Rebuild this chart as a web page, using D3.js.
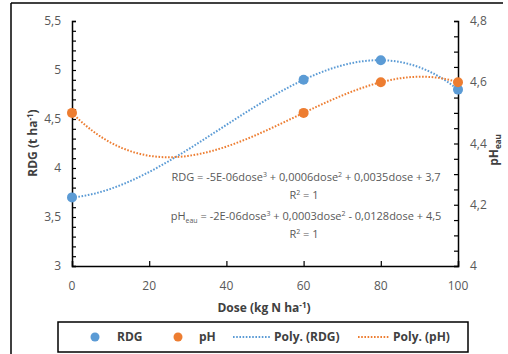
<!DOCTYPE html>
<html>
<head>
<meta charset="utf-8">
<script src="https://cdn.jsdelivr.net/npm/d3@7"></script>
<style>
  body { margin: 0; background: #fff; }
  svg text { font-family: "Open Sans", "Liberation Sans", sans-serif; }
</style>
</head>
<body>
<svg id="chart" width="508" height="354"></svg>
<script>
// data
const doses = [0, 60, 80, 100];
const rdg = [3.7, 4.9, 5.1, 4.8];
const ph = [4.5, 4.5, 4.6, 4.6];
const xTicks = [0, 20, 40, 60, 80, 100];
const leftTicks = [3, 3.5, 4, 4.5, 5, 5.5];
const rightTicks = [4, 4.2, 4.4, 4.6, 4.8];

const BLUE = "#5B9BD5";
const ORANGE = "#ED7D31";
const GREY = "#595959";

const svg = d3.select("#chart");
const m = { left: 72, right: 458, top: 21, bottom: 266 };

const x = d3.scaleLinear().domain([0, 100]).range([m.left, m.right]);
const yL = d3.scaleLinear().domain([3, 5.5]).range([m.bottom, m.top]);
const yR = d3.scaleLinear().domain([4, 4.8]).range([m.bottom, m.top]);

const fr = d3.formatLocale({ decimal: ",", thousands: " ", grouping: [3], currency: ["", ""] });
const fmt = fr.format("~f");

// outer frame (only top + left visible in the crop)
svg.append("line").attr("x1", 11).attr("x2", 503).attr("y1", 3).attr("y2", 3)
  .attr("stroke", "#000").attr("stroke-width", 1.5);
svg.append("line").attr("x1", 11).attr("x2", 11).attr("y1", 3).attr("y2", 354)
  .attr("stroke", "#000").attr("stroke-width", 1.5);

// cubic through the 4 points (Lagrange) = Excel poly trendline with R2 = 1
function lagrange(xs, ys) {
  return t => d3.sum(xs, (xi, i) => {
    let p = ys[i];
    xs.forEach((xj, j) => { if (j !== i) p *= (t - xj) / (xi - xj); });
    return p;
  });
}
const fRdg = lagrange(doses, rdg);
const fPh = lagrange(doses, ph);
const grid = d3.range(0, 100.5, 1);

// axes
const axL = svg.append("g").attr("transform", `translate(${m.left},0)`)
  .call(d3.axisRight(yL).ticks(25).tickSize(4).tickFormat(""));
const axR = svg.append("g").attr("transform", `translate(${m.right},0)`)
  .call(d3.axisLeft(yR).ticks(20).tickSize(4).tickFormat(""));
const axB = svg.append("g").attr("transform", `translate(0,${m.bottom})`)
  .call(d3.axisTop(x).tickValues(xTicks).tickSize(5).tickFormat(""));
[axL, axR, axB].forEach(g => {
  g.select(".domain").attr("stroke", "#000").attr("stroke-width", 1.5);
  g.selectAll(".tick line").attr("stroke", "#000").attr("stroke-width", 1.2);
});

// tick labels
svg.selectAll(".lt").data(leftTicks).join("text")
  .attr("x", 61).attr("y", d => yL(d)).attr("dy", "0.35em")
  .attr("text-anchor", "end").attr("font-size", 12).attr("fill", GREY)
  .text(d => fmt(d));
svg.selectAll(".rt").data(rightTicks).join("text")
  .attr("x", 470).attr("y", d => yR(d)).attr("dy", "0.35em")
  .attr("font-size", 12).attr("fill", GREY)
  .text(d => fmt(d));
svg.selectAll(".xt").data(xTicks).join("text")
  .attr("x", d => x(d)).attr("y", 290).attr("text-anchor", "middle")
  .attr("font-size", 12).attr("fill", GREY)
  .text(d => d);

// axis titles
const tL = svg.append("text").attr("transform", "translate(37,143) rotate(-90)")
  .attr("text-anchor", "middle").attr("font-size", 12).attr("font-weight", "bold").attr("fill", "#404040");
tL.append("tspan").text("RDG (t ha");
tL.append("tspan").attr("dy", -4).attr("font-size", 8).text("-1");
tL.append("tspan").attr("dy", 4).text(")");

const tR = svg.append("text").attr("transform", "translate(498,150) rotate(-90)")
  .attr("text-anchor", "middle").attr("font-size", 12).attr("font-weight", "bold").attr("fill", "#404040");
tR.append("tspan").text("pH");
tR.append("tspan").attr("dy", 3).attr("font-size", 8).text("eau");

const tB = svg.append("text").attr("x", 264).attr("y", 312)
  .attr("text-anchor", "middle").attr("font-size", 12).attr("font-weight", "bold").attr("fill", "#404040");
tB.append("tspan").text("Dose (kg N ha");
tB.append("tspan").attr("dy", -4).attr("font-size", 8).text("-1");
tB.append("tspan").attr("dy", 4).text(")");

// trendlines
svg.append("path").datum(grid)
  .attr("d", d3.line().x(d => x(d)).y(d => yL(fRdg(d))))
  .attr("fill", "none").attr("stroke", BLUE).attr("stroke-width", 2)
  .attr("stroke-dasharray", "1.6,1.6");
svg.append("path").datum(grid)
  .attr("d", d3.line().x(d => x(d)).y(d => yR(fPh(d))))
  .attr("fill", "none").attr("stroke", ORANGE).attr("stroke-width", 2)
  .attr("stroke-dasharray", "1.6,1.6");

// points
svg.selectAll(".pr").data(doses).join("circle")
  .attr("cx", d => x(d)).attr("cy", (d, i) => yL(rdg[i])).attr("r", 5).attr("fill", BLUE);
svg.selectAll(".pp").data(doses).join("circle")
  .attr("cx", d => x(d)).attr("cy", (d, i) => yR(ph[i])).attr("r", 5).attr("fill", ORANGE);

// equations
const eq = svg.append("g").attr("font-size", 11).attr("fill", GREY).attr("text-anchor", "middle");
const e1 = eq.append("text").attr("x", 306).attr("y", 181);
e1.append("tspan").text("RDG = -5E-06dose");
e1.append("tspan").attr("dy", -4).attr("font-size", 7).text("3");
e1.append("tspan").attr("dy", 4).text(" + 0,0006dose");
e1.append("tspan").attr("dy", -4).attr("font-size", 7).text("2");
e1.append("tspan").attr("dy", 4).text(" + 0,0035dose + 3,7");
const r1 = eq.append("text").attr("x", 304).attr("y", 199);
r1.append("tspan").text("R");
r1.append("tspan").attr("dy", -4).attr("font-size", 7).text("2");
r1.append("tspan").attr("dy", 4).text(" = 1");
const e2 = eq.append("text").attr("x", 306).attr("y", 220);
e2.append("tspan").text("pH");
e2.append("tspan").attr("dy", 3).attr("font-size", 7).text("eau");
e2.append("tspan").attr("dy", -3).text(" = -2E-06dose");
e2.append("tspan").attr("dy", -4).attr("font-size", 7).text("3");
e2.append("tspan").attr("dy", 4).text(" + 0,0003dose");
e2.append("tspan").attr("dy", -4).attr("font-size", 7).text("2");
e2.append("tspan").attr("dy", 4).text(" - 0,0128dose + 4,5");
const r2 = eq.append("text").attr("x", 304).attr("y", 238);
r2.append("tspan").text("R");
r2.append("tspan").attr("dy", -4).attr("font-size", 7).text("2");
r2.append("tspan").attr("dy", 4).text(" = 1");

// legend
const leg = svg.append("g");
leg.append("rect").attr("x", 58).attr("y", 322).attr("width", 410).attr("height", 30)
  .attr("fill", "#fff").attr("stroke", "#000").attr("stroke-width", 1.5);
const ly = 337;
const items = [
  { type: "dot", color: BLUE, label: "RDG", sx: 95, tx: 117 },
  { type: "dot", color: ORANGE, label: "pH", sx: 178, tx: 199 },
  { type: "line", color: BLUE, label: "Poly. (RDG)", sx: 233, tx: 274 },
  { type: "line", color: ORANGE, label: "Poly. (pH)", sx: 358, tx: 393 }
];
items.forEach(it => {
  if (it.type === "dot") {
    leg.append("circle").attr("cx", it.sx).attr("cy", ly).attr("r", 4.5).attr("fill", it.color);
  } else {
    leg.append("line").attr("x1", it.sx).attr("x2", it.tx - 4).attr("y1", ly).attr("y2", ly)
      .attr("stroke", it.color).attr("stroke-width", 2).attr("stroke-dasharray", "1.6,1.6");
  }
  leg.append("text").attr("x", it.tx).attr("y", ly).attr("dy", "0.35em")
    .attr("font-size", 12).attr("font-weight", "bold").attr("fill", "#404040").text(it.label);
});
</script>
</body>
</html>
